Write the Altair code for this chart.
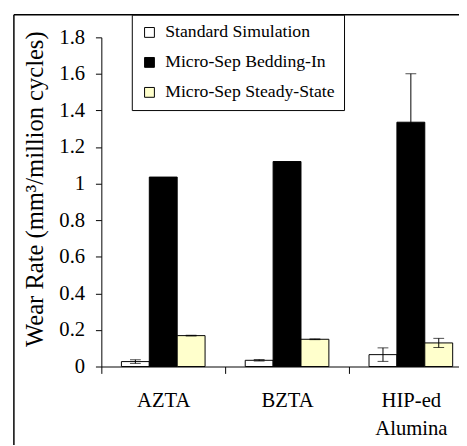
import altair as alt
import pandas as pd

categories = ["AZTA", "BZTA", "HIP-ed\nAlumina"]
series = ["Standard Simulation", "Micro-Sep Bedding-In", "Micro-Sep Steady-State"]
colors = ["white", "black", "#FFFFCC"]

std_vals = [0.027, 0.034, 0.065]
std_errs = [0.010, 0.004, 0.037]
bed_vals = [1.036, 1.121, 1.336]
bed_errs = [0.0, 0.0, 0.265]
ss_vals = [0.169, 0.149, 0.129]
ss_errs = [0.002, 0.002, 0.025]

y_ticks = [0, 0.2, 0.4, 0.6, 0.8, 1, 1.2, 1.4, 1.6, 1.8]

rows = []
for s, vals, errs in zip(series, [std_vals, bed_vals, ss_vals], [std_errs, bed_errs, ss_errs]):
    for c, v, e in zip(categories, vals, errs):
        rows.append({"cat": c, "series": s, "value": v, "err": e, "lo": v - e, "hi": v + e})
df = pd.DataFrame(rows)
df_err = df[df["err"] > 0]

FONT = "'Liberation Serif', 'Times New Roman', serif"

xenc = alt.X(
    "cat:N", sort=categories,
    scale=alt.Scale(range=[0, 378], paddingInner=0, paddingOuter=0),
    axis=alt.Axis(title=None, labelAngle=0, labelFontSize=21, labelFont=FONT, labelColor="black",
                  tickBand="extent", tickSize=7, tickColor="black", domainColor="black",
                  labelPadding=17, labelExpr="split(datum.label, '\\n')", labelLineHeight=28,
                  labelBaseline="top"),
)
xoff = alt.XOffset("series:N", sort=series, scale=alt.Scale(paddingOuter=0.72, paddingInner=0))


def yenc(field):
    return alt.Y(
        field, scale=alt.Scale(domain=[0, 1.8], nice=False),
        axis=alt.Axis(title="Wear Rate (mm³/million cycles)", values=y_ticks, format="~g",
                      labelFontSize=21, labelFont=FONT, labelColor="black", tickSize=6,
                      tickColor="black", domainColor="black", labelPadding=11, grid=False,
                      titleFont=FONT, titleFontSize=25, titleFontWeight="normal", titleColor="black",
                      titleAngle=-90, titleX=-60, titleY=154, titleAlign="center",
                      titleBaseline="alphabetic"),
    )


bars = alt.Chart(df).mark_bar(stroke="black", strokeWidth=1).encode(
    x=xenc, xOffset=xoff, y=yenc("value:Q"),
    fill=alt.Fill("series:N", sort=series, scale=alt.Scale(domain=series, range=colors),
                  legend=alt.Legend(orient="none", legendX=31, legendY=-23, title=None,
                                    strokeColor="black", fillColor="white", padding=9,
                                    symbolType="square", symbolSize=100, symbolStrokeColor="black",
                                    symbolStrokeWidth=1, labelFont=FONT, labelFontSize=18,
                                    labelLimit=400,
                                    labelColor="black", rowPadding=12.5, labelOffset=7)),
)

err_rule = alt.Chart(df_err).mark_rule(color="black", strokeWidth=1).encode(
    x=xenc, xOffset=xoff, y=yenc("lo:Q"), y2="hi:Q")
cap_hi = alt.Chart(df_err).mark_tick(color="black", thickness=1, size=11).encode(
    x=xenc, xOffset=xoff, y=yenc("hi:Q"))
cap_lo = alt.Chart(df_err).mark_tick(color="black", thickness=1, size=11).encode(
    x=xenc, xOffset=xoff, y=yenc("lo:Q"))

frame_df = pd.DataFrame({"a": [0]})
frame_left = alt.Chart(frame_df).mark_rule(color="black", strokeWidth=1.5).encode(
    x=alt.value(-89), y=alt.value(-23), y2=alt.value(420))
frame_top = alt.Chart(frame_df).mark_rule(color="black", strokeWidth=1.5).encode(
    x=alt.value(-89), x2=alt.value(400), y=alt.value(-23))

chart = alt.layer(bars, err_rule, cap_hi, cap_lo, frame_left, frame_top).properties(
    width=364, height=335,
    padding={"left": 95, "top": 26, "right": 0, "bottom": 76},
    autosize=alt.AutoSizeParams(type="none"),
    background="white",
).configure(font=FONT).configure_view(stroke=None).configure_axis(
    labelFont=FONT, titleFont=FONT
).configure_legend(labelFont=FONT)

chart.save("out.html", embed_options={"renderer": "svg", "actions": False})
